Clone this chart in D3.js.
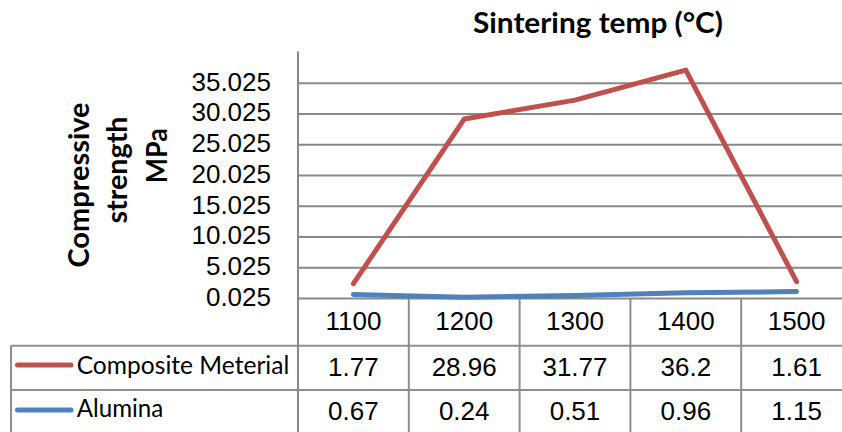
<!DOCTYPE html>
<html>
<head>
<meta charset="utf-8">
<script src="https://cdn.jsdelivr.net/npm/d3@7"></script>
<style>
  html, body { margin: 0; padding: 0; background: #ffffff; }
  svg { display: block; }
</style>
</head>
<body>
<svg id="chart" width="842" height="432"></svg>
<script>
// ---- data ----
const categories = ["1100", "1200", "1300", "1400", "1500"];
const compositeValues = [1.77, 28.96, 31.77, 36.2, 1.61];
const aluminaValues = [0.67, 0.24, 0.51, 0.96, 1.15];
const seriesNames = ["Composite Meterial", "Alumina"];
const yTickValues = [0.025, 5.025, 10.025, 15.025, 20.025, 25.025, 30.025, 35.025];
const yDomain = [0.025, 40.025];
const chartTitle = "Sintering temp (°C)";
const yTitleLines = ["Compressive", "strength", "MPa"];

// ---- styles ----
const RED = "#C0504D", BLUE = "#4F81BD", GRID = "#898989", TABLE = "#8e8e8e";
const numFont = "'Liberation Sans', Arial, sans-serif";
const txtFont = "Lato, 'Open Sans', sans-serif";
const NUM_SIZE = 26;

const svg = d3.select("#chart");

// ---- scales ----
const plotLeft = 298, plotRight = 852, plotTop = 52.5, plotBottom = 298.5;
const x = d3.scaleBand().domain(categories).range([plotLeft, plotRight]);
const y = d3.scaleLinear().domain(yDomain).range([plotBottom, plotTop]);

// stacked line data (Alumina at bottom, Composite on top)
const rows = categories.map((c, i) => ({ cat: c, "Alumina": aluminaValues[i], "Composite Meterial": compositeValues[i] }));
const stack = d3.stack().keys(["Alumina", "Composite Meterial"]);
const stacked = stack(rows);

// ---- gridlines ----
svg.append("g").selectAll("line")
  .data(yTickValues.filter(v => v !== yDomain[0]))
  .join("line")
  .attr("x1", plotLeft).attr("x2", plotRight)
  .attr("y1", d => y(d)).attr("y2", d => y(d))
  .attr("stroke", GRID).attr("stroke-width", 2);

// ---- y axis labels ----
const yAxis = d3.axisLeft(y).tickValues(yTickValues).tickSize(0).tickPadding(27)
  .tickFormat(d3.format(".3f"));
const gy = svg.append("g").attr("transform", `translate(${plotLeft},0)`).call(yAxis);
gy.select(".domain").remove();
gy.selectAll("text")
  .attr("font-family", numFont).attr("font-size", NUM_SIZE).attr("fill", "#000")
  .attr("dy", "0.26em");

// ---- table lines ----
const tableLeft = 11;
const rowTops = [plotBottom, 345.7, 390, 434.3];
const tableG = svg.append("g");
[rowTops[1], rowTops[2], rowTops[3]].forEach(yy => {
  tableG.append("line").attr("x1", tableLeft).attr("x2", plotRight)
    .attr("y1", yy).attr("y2", yy).attr("stroke", TABLE).attr("stroke-width", 2);
});
tableG.append("line").attr("x1", tableLeft).attr("x2", tableLeft)
  .attr("y1", rowTops[1]).attr("y2", rowTops[3]).attr("stroke", TABLE).attr("stroke-width", 2);
categories.slice(1).forEach(c => {
  tableG.append("line").attr("x1", x(c)).attr("x2", x(c))
    .attr("y1", plotBottom).attr("y2", rowTops[3]).attr("stroke", TABLE).attr("stroke-width", 2);
});

// ---- axes lines ----
svg.append("line").attr("x1", plotLeft).attr("x2", plotRight)
  .attr("y1", plotBottom).attr("y2", plotBottom).attr("stroke", GRID).attr("stroke-width", 2);
svg.append("line").attr("x1", plotLeft).attr("x2", plotLeft)
  .attr("y1", plotTop - 1).attr("y2", rowTops[3]).attr("stroke", GRID).attr("stroke-width", 2);

// ---- category labels (x axis) ----
const xAxis = d3.axisBottom(x).tickSize(0).tickPadding(13);
const gx = svg.append("g").attr("transform", `translate(0,${plotBottom})`).call(xAxis);
gx.select(".domain").remove();
gx.selectAll("text").attr("font-family", numFont).attr("font-size", NUM_SIZE).attr("fill", "#000");

// ---- lines ----
const line = d3.line()
  .x((d, i) => x(categories[i]) + x.bandwidth() / 2)
  .y(d => y(d[1]));
const colorOf = { "Composite Meterial": RED, "Alumina": BLUE };
svg.append("g").selectAll("path")
  .data(stacked.slice().reverse())
  .join("path")
  .attr("d", d => line(d))
  .attr("fill", "none")
  .attr("stroke", d => colorOf[d.key])
  .attr("stroke-width", 5)
  .attr("stroke-linejoin", "round")
  .attr("stroke-linecap", "round");

// ---- data table values ----
const tableSeries = [compositeValues, aluminaValues];
const valueBaselines = [376, 420];
tableSeries.forEach((vals, r) => {
  svg.append("g").selectAll("text")
    .data(vals)
    .join("text")
    .attr("x", (d, i) => x(categories[i]) + x.bandwidth() / 2)
    .attr("y", valueBaselines[r])
    .attr("text-anchor", "middle")
    .attr("font-family", numFont).attr("font-size", NUM_SIZE).attr("fill", "#000")
    .text(d => String(d));
});

// ---- legend keys in table ----
const legendBaselines = [374, 417];
const legendLineY = [365, 410];
const legendLengths = [212.6, 86.6];
seriesNames.forEach((name, r) => {
  svg.append("line").attr("x1", 17.5).attr("x2", 71)
    .attr("y1", legendLineY[r]).attr("y2", legendLineY[r])
    .attr("stroke", colorOf[name]).attr("stroke-width", 5).attr("stroke-linecap", "round");
  svg.append("text").attr("x", 76.7).attr("y", legendBaselines[r])
    .attr("font-family", txtFont).attr("font-size", 25).attr("fill", "#000")
    .attr("textLength", legendLengths[r]).attr("lengthAdjust", "spacingAndGlyphs")
    .text(name);
});

// ---- title ----
svg.append("text").attr("x", 598).attr("y", 33).attr("text-anchor", "middle")
  .attr("font-family", txtFont).attr("font-weight", "bold").attr("font-size", 28)
  .attr("textLength", 250).attr("lengthAdjust", "spacingAndGlyphs")
  .attr("fill", "#000").text(chartTitle);

// ---- y axis title (rotated, 3 lines) ----
const yTitleBaselineX = [88.5, 127, 167];
const yTitleCenterY = [185, 170, 155.7];
const yTitleLengths = [165, 107, 55];
yTitleLines.forEach((t, i) => {
  svg.append("text")
    .attr("transform", `translate(${yTitleBaselineX[i]},${yTitleCenterY[i]}) rotate(-90)`)
    .attr("text-anchor", "middle")
    .attr("font-family", txtFont).attr("font-weight", "bold").attr("font-size", 28)
    .attr("textLength", yTitleLengths[i]).attr("lengthAdjust", "spacingAndGlyphs")
    .attr("fill", "#000").text(t);
});
</script>
</body>
</html>
